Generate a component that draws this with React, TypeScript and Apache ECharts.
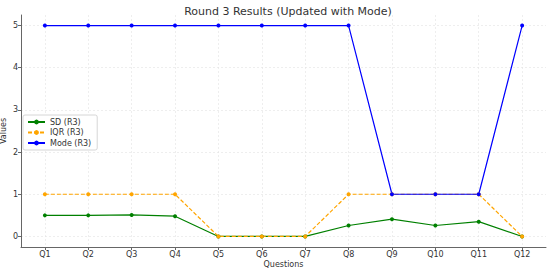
import React, { useEffect, useRef } from "react";
import * as echarts from "echarts";

const questions = ["Q1", "Q2", "Q3", "Q4", "Q5", "Q6", "Q7", "Q8", "Q9", "Q10", "Q11", "Q12"];
const sdValues = [0.5, 0.5, 0.51, 0.48, 0, 0, 0, 0.26, 0.41, 0.26, 0.35, 0];
const iqrValues = [1, 1, 1, 1, 0, 0, 0, 1, 1, 1, 1, 0];
const modeValues = [5, 5, 5, 5, 5, 5, 5, 5, 1, 1, 1, 5];
const yTicks = [0, 1, 2, 3, 4, 5];

const FONT = "DejaVu Sans";

export default function App() {
  const ref = useRef<HTMLDivElement>(null);
  useEffect(() => {
    if (!ref.current) return;
    const chart = echarts.init(ref.current, undefined, { renderer: "svg" });
    const toPairs = (arr: number[]) => arr.map((v, i) => [i, v]);
    const xIdx = questions.map((_, i) => i);
    chart.setOption({
      animation: false,
      textStyle: { fontFamily: FONT },
      title: {
        text: "Round 3 Results (Updated with Mode)",
        left: 283,
        top: 1,
        textAlign: "center",
        textStyle: { fontFamily: FONT, fontSize: 11, fontWeight: "normal", color: "#333" },
      },
      grid: { left: 21, right: 4, top: 15, bottom: 23, containLabel: false, outerBoundsMode: "none" },
      legend: {
        orient: "vertical",
        left: 23,
        top: 115,
        padding: [3, 6, 3, 4],
        itemGap: 2.5,
        itemWidth: 17,
        itemHeight: 6,
        backgroundColor: "#fff",
        borderColor: "#ccc",
        borderWidth: 0.8,
        borderRadius: 2,
        textStyle: { fontFamily: FONT, fontSize: 8, color: "#333" },
        data: ["SD (R3)", "IQR (R3)", "Mode (R3)"],
      },
      xAxis: {
        type: "value",
        min: -0.55,
        max: 11.55,
        name: "Questions",
        nameLocation: "middle",
        nameGap: 13.5,
        nameMoveOverlap: false,
        nameTextStyle: { fontFamily: FONT, fontSize: 8, color: "#333" },
        axisLine: { show: true, onZero: false, lineStyle: { color: "#666", width: 1 } },
        axisTick: { show: true, customValues: xIdx, length: 3, lineStyle: { color: "#666" } },
        axisLabel: {
          customValues: xIdx,
          formatter: (v: number) => questions[Math.round(v)] ?? "",
          fontFamily: FONT,
          fontSize: 8,
          color: "#333",
          margin: 3,
        },
        splitLine: { show: true, lineStyle: { color: "#e2e2e2", type: [2, 2], width: 0.6 } },
      },
      yAxis: {
        type: "value",
        min: -0.25,
        max: 5.25,
        name: "Values",
        nameLocation: "middle",
        nameGap: 14,
        nameMoveOverlap: false,
        nameTextStyle: { fontFamily: FONT, fontSize: 8, color: "#333" },
        axisLine: { show: true, onZero: false, lineStyle: { color: "#666", width: 1 } },
        axisTick: { show: true, customValues: yTicks, length: 3, lineStyle: { color: "#666" } },
        axisLabel: { customValues: yTicks, fontFamily: FONT, fontSize: 8, color: "#333", margin: 3 },
        splitLine: { show: true, lineStyle: { color: "#e2e2e2", type: [2, 2], width: 0.6 } },
      },
      series: [
        {
          name: "SD (R3)",
          type: "line",
          data: toPairs(sdValues),
          symbol: "circle",
          symbolSize: 4,
          color: "#008000",
          lineStyle: { width: 1.2, color: "#008000" },
          itemStyle: { color: "#008000" },
        },
        {
          name: "IQR (R3)",
          type: "line",
          data: toPairs(iqrValues),
          symbol: "circle",
          symbolSize: 4,
          color: "#FFA500",
          lineStyle: { width: 1.2, color: "#FFA500", type: [4, 2] },
          itemStyle: { color: "#FFA500" },
        },
        {
          name: "Mode (R3)",
          type: "line",
          data: toPairs(modeValues),
          symbol: "circle",
          symbolSize: 4,
          color: "#0000FF",
          lineStyle: { width: 1.2, color: "#0000FF" },
          itemStyle: { color: "#0000FF" },
        },
      ],
    });
    return () => chart.dispose();
  }, []);
  return <div ref={ref} style={{ width: 550, height: 270, position: "absolute", left: 0, top: 0 }} />;
}
